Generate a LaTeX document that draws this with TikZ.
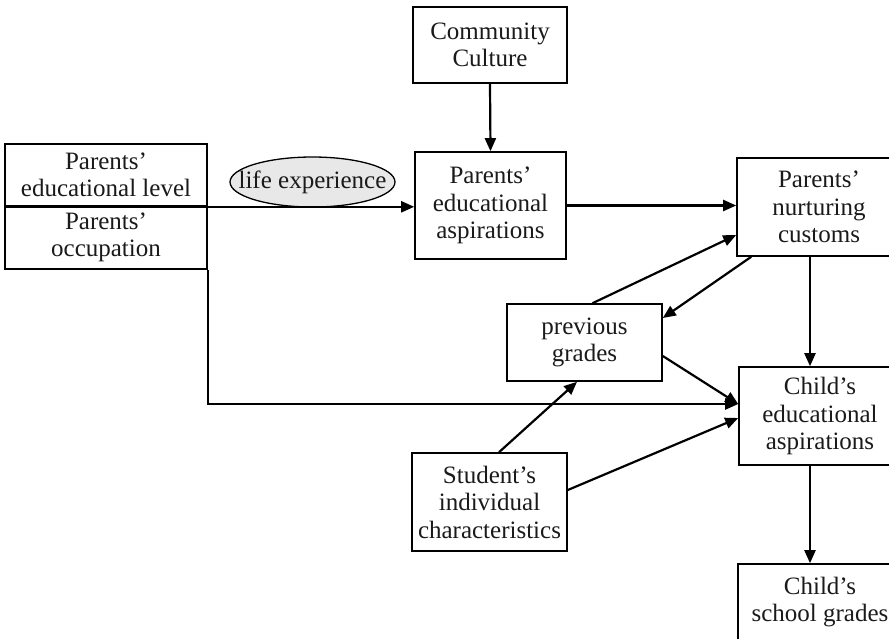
\documentclass[tikz,border=0pt]{standalone}
\usepackage{fontspec}
\setmainfont{Liberation Serif}
\usetikzlibrary{arrows.meta,shapes.geometric}
\definecolor{txt}{HTML}{1A1A1A}
\tikzset{
  box/.style={draw=black, line width=1.6pt, align=center, text=txt, inner sep=0pt,
    font=\fontsize{25}{27.5}\selectfont},
  oval/.style={draw=black, line width=1.3pt, ellipse, fill=gray!18, inner xsep=-16pt, inner ysep=0pt, text=txt,
    font=\fontsize{25}{27.5}\selectfont},
  conn/.style={line width=2.2pt, -{Triangle[length=13pt,width=11pt]}},
}
\begin{document}
\begin{tikzpicture}[x=1pt,y=-1pt]
\useasboundingbox (0,0) rectangle (889,638);
\clip (0,0) rectangle (889,638);
% nodes
\node[box, minimum width=154, minimum height=76] (comm) at (490,45) {Community\\Culture};
\node[box, minimum width=202, minimum height=62] (pel) at (106,175) {Parents'\\educational level};
\node[box, minimum width=202, minimum height=63] (pocc) at (106,237.5) {Parents'\\occupation};
\node[oval, minimum width=165, minimum height=50] (life) at (312.5,182) {life experience};
\node[box, minimum width=151, minimum height=107] (pasp) at (490.5,205.5) {Parents'\\educational\\aspirations};
\node[box, minimum width=164, minimum height=98] (nurt) at (819,207) {Parents'\\nurturing\\customs};
\node[box, minimum width=155, minimum height=77] (prev) at (584.5,342.5) {previous\\grades};
\node[box, minimum width=162, minimum height=98] (casp) at (820,416) {Child's\\educational\\aspirations};
\node[box, minimum width=155, minimum height=98] (stud) at (489.5,502) {Student's\\individual\\characteristics};
\node[box, minimum width=164, minimum height=76] (sgr) at (820,602) {Child's\\school grades};
% connectors
\draw[conn] (comm.south) -- (pasp.north);
\draw[conn] (pel.south west) -- (pel.south west -| pasp.west);
\draw[conn] (pasp.east) -- (pasp.east -| nurt.west);
\draw[conn] ([xshift=8pt]prev.north) -- ([yshift=-28pt]nurt.west);
\draw[conn] ([xshift=15pt]nurt.south west) -- ([yshift=24.5pt]prev.east);
\draw[conn] ([yshift=-13.5pt]prev.east) -- ([yshift=12pt]casp.west);
\draw[conn] (pocc.south east) |- ([yshift=12pt]casp.west);
\draw[conn] ([xshift=9.5pt]stud.north) -- ([xshift=-7.5pt]prev.south);
\draw[conn] ([yshift=12pt]stud.east) -- ([yshift=-2pt]casp.west);
\draw[conn] ([xshift=-9pt]nurt.south) -- ([xshift=-10pt]casp.north);
\draw[conn] ([xshift=-10pt]casp.south) -- ([xshift=-10pt]sgr.north);
\end{tikzpicture}
\end{document}
